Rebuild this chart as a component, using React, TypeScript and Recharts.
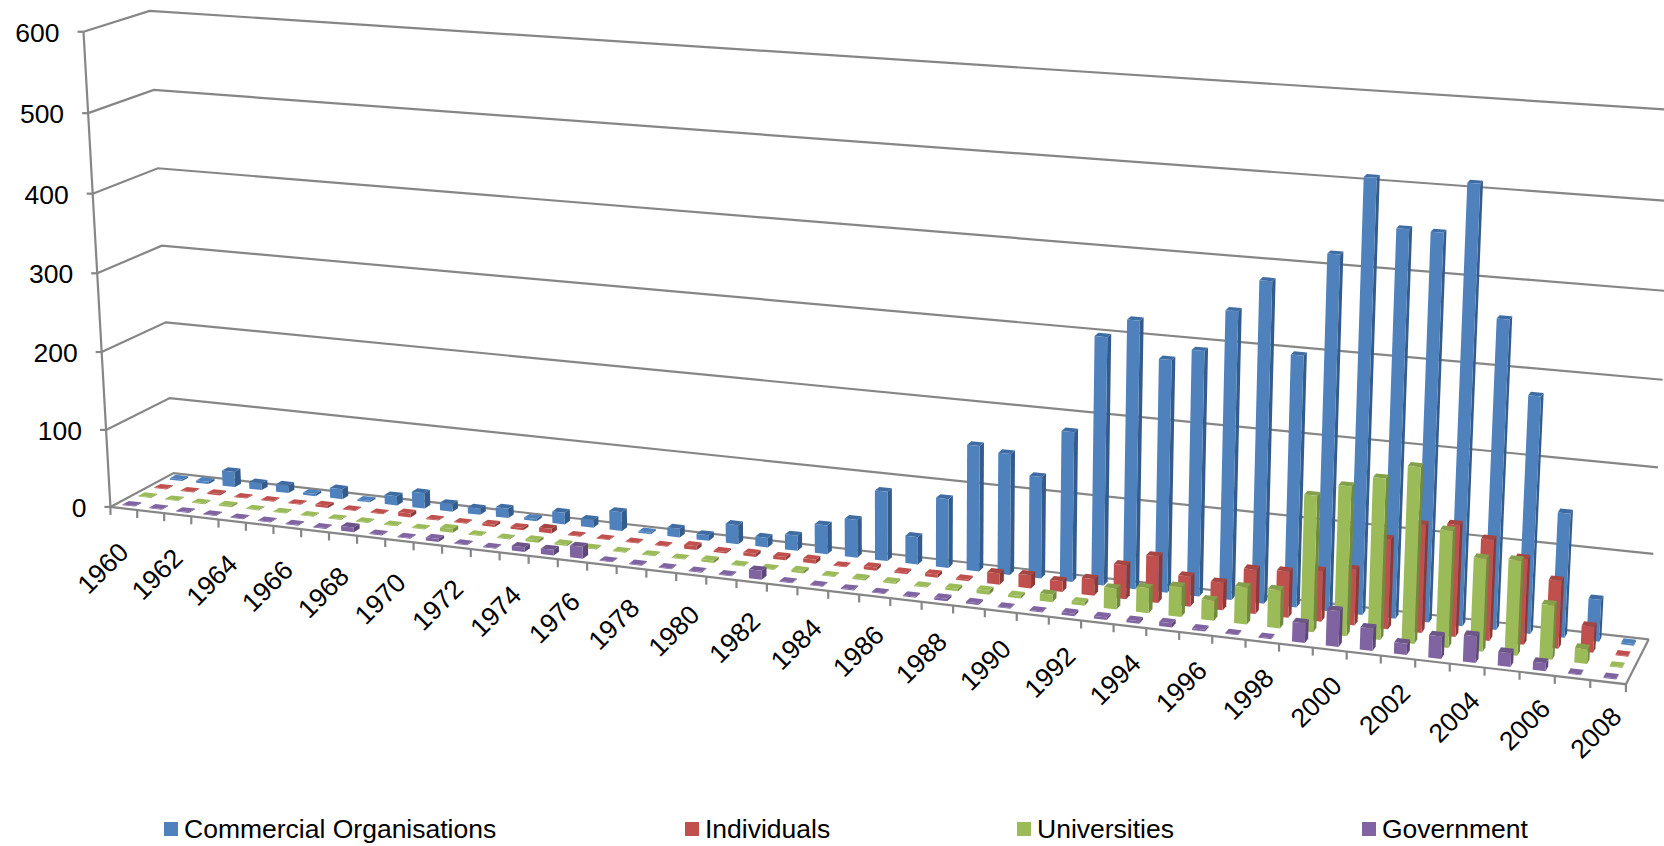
import React from 'react';
import { BarChart, Bar, XAxis, YAxis, CartesianGrid, Legend } from 'recharts';

const WIDTH = 1664;
const HEIGHT = 846;
const FONT = '"Liberation Sans", Arial, sans-serif';

const years = [
  '1960','1961','1962','1963','1964','1965','1966','1967','1968','1969',
  '1970','1971','1972','1973','1974','1975','1976','1977','1978','1979',
  '1980','1981','1982','1983','1984','1985','1986','1987','1988','1989',
  '1990','1991','1992','1993','1994','1995','1996','1997','1998','1999',
  '2000','2001','2002','2003','2004','2005','2006','2007','2008',
];
const commercial = [
  2,3,20,9,10,3,13,2,12,20,
  10,8,12,3,15,10,24,2,11,7,
  24,12,19,36,47,86,34,85,154,148,
  124,182,299,322,279,293,343,381,298,418,
  508,453,452,510,360,276,145,49,2,
];
const individuals = [
  1,1,2,1,1,1,3,1,1,5,
  1,1,3,3,6,1,1,1,1,5,
  2,4,4,5,1,4,2,4,2,14,
  16,13,20,41,56,36,33,53,55,60,
  66,106,127,131,118,100,79,30,1,
];
const universities = [
  1,1,1,2,1,1,1,1,1,1,
  1,5,1,1,3,2,1,1,1,1,
  3,1,1,3,1,2,2,1,3,5,
  3,9,4,25,30,36,24,44,45,160,
  175,188,205,136,108,110,63,17,1,
];
const government = [
  1,1,1,1,1,1,1,1,6,1,
  1,4,1,1,6,7,15,1,1,1,
  1,1,11,1,1,1,1,1,3,2,
  1,1,3,3,3,5,2,1,1,23,
  42,26,13,26,31,16,9,1,1,
];
const yTicks = [0, 100, 200, 300, 400, 500, 600];
const seriesNames = ['Commercial Organisations', 'Individuals', 'Universities', 'Government'];
const chartRows = years.map((year, i) => ({
  year,
  [seriesNames[0]]: commercial[i],
  [seriesNames[1]]: individuals[i],
  [seriesNames[2]]: universities[i],
  [seriesNames[3]]: government[i],
}));

// Box corners of the 3D scene (run along years, depth, value) and where they land on screen.
const sceneAnchors: number[][] = [
  [0, 0, 0, 111, 507],
  [0, 0, 1, 83, 32],
  [0, 1, 0, 173, 473],
  [0, 1, 1, 150, 10.7],
  [1, 0, 0, 1626, 684],
  [1, 1, 0, 1649, 639],
  [1, 1, 1, 1677, 110],
  [1, 1, 1 / 6, 1653, 554],
  [1, 1, 1 / 3, 1658, 468],
  [0, 0, 5 / 6, 88, 113],
  [0, 1, 5 / 6, 154, 90],
];

function solveProjection(anchors: number[][]): number[] {
  const n = 11;
  const ata = Array.from({ length: n }, () => new Array(n + 1).fill(0));
  const addRow = (row: number[], rhs: number) => {
    for (let i = 0; i < n; i++) {
      for (let j = 0; j < n; j++) ata[i][j] += row[i] * row[j];
      ata[i][n] += row[i] * rhs;
    }
  };
  anchors.forEach(([u, d, h, sx, sy]) => {
    const X = sx / 1000;
    const Y = sy / 1000;
    addRow([1, u, d, h, 0, 0, 0, 0, -X * u, -X * d, -X * h], X);
    addRow([0, 0, 0, 0, 1, u, d, h, -Y * u, -Y * d, -Y * h], Y);
  });
  for (let c = 0; c < n; c++) {
    let pivot = c;
    for (let r = c + 1; r < n; r++) if (Math.abs(ata[r][c]) > Math.abs(ata[pivot][c])) pivot = r;
    [ata[c], ata[pivot]] = [ata[pivot], ata[c]];
    for (let r = 0; r < n; r++) {
      if (r === c) continue;
      const f = ata[r][c] / ata[c][c];
      for (let k = c; k <= n; k++) ata[r][k] -= f * ata[c][k];
    }
  }
  return ata.map((row, i) => row[n] / row[i]);
}

const P = solveProjection(sceneAnchors);

function project(u: number, d: number, h: number): [number, number] {
  const w = 1 + P[8] * u + P[9] * d + P[10] * h;
  return [
    (1000 * (P[0] + P[1] * u + P[2] * d + P[3] * h)) / w,
    (1000 * (P[4] + P[5] * u + P[6] * d + P[7] * h)) / w,
  ];
}
const pts = (list: [number, number][]) => list.map((p) => `${p[0].toFixed(2)},${p[1].toFixed(2)}`).join(' ');

const AXIS_GREY = '#868686';
const LINE_W = 2.2;
const N = years.length;
const BAND = WIDTH / N;
const LABEL_SIZE = 26.5;

const faces = [
  { front: '#4F81BD', side: '#335C8C', top: '#3F6CA3' },
  { front: '#C0504D', side: '#8C3A38', top: '#A64542' },
  { front: '#9BBB59', side: '#708A3E', top: '#84A04A' },
  { front: '#8064A2', side: '#5C4776', top: '#6D5489' },
];

// Draws one bar as a cuboid: the flat bar rectangle gives the category slot, row and height.
function Cuboid(props: any) {
  const { x, y, width, fill } = props;
  const cx = x + width / 2;
  const cell = Math.floor(cx / BAND);
  const row = Math.floor((cx - cell * BAND) / width);
  const h = (HEIGHT - y) / HEIGHT;
  const un = (cell + 0.5) / N;
  const frac = 0.47 - 0.11 * un;
  const u0 = (cell + 0.5 - frac / 2) / N;
  const u1 = (cell + 0.5 + frac / 2) / N;
  const dc = 1 - (row + 0.5) / 4;
  const d0 = dc - 0.05;
  const d1 = dc + 0.05;
  const c = faces[row];
  return (
    <g>
      <polygon points={pts([project(u1, d0, 0), project(u1, d1, 0), project(u1, d1, h), project(u1, d0, h)])} fill={c.side} />
      <polygon points={pts([project(u0, d0, h), project(u1, d0, h), project(u1, d1, h), project(u0, d1, h)])} fill={h > 0.01 ? c.top : fill} />
      <polygon points={pts([project(u0, d0, 0), project(u1, d0, 0), project(u1, d0, h), project(u0, d0, h)])} fill={fill} />
    </g>
  );
}

// Wall gridline for one value tick, bent at the back-left corner; the floor outline sits with the zero line.
function WallLine(props: any) {
  const h = (HEIGHT - props.y1) / HEIGHT;
  const lineProps = { fill: 'none', stroke: AXIS_GREY, strokeWidth: LINE_W };
  const front = project(0, 0, h);
  return (
    <g>
      <polyline points={pts([front, project(0, 1, h), project(1, 1, h)])} {...lineProps} />
      <line x1={front[0] - 6} y1={front[1]} x2={front[0]} y2={front[1]} stroke={AXIS_GREY} strokeWidth={LINE_W} />
      {Math.abs(h) < 1e-6 && (
        <polyline points={pts([project(0, 0, 1), project(0, 0, 0), project(1, 0, 0), project(1, 1, 0)])} {...lineProps} />
      )}
    </g>
  );
}

function ValueTick(props: any) {
  const h = (HEIGHT - props.y) / HEIGHT;
  const [ax, ay] = project(0, 0, h);
  return (
    <text x={ax - 24} y={ay + 1} textAnchor="end" dominantBaseline="central" fontFamily={FONT} fontSize={LABEL_SIZE} fill="#000">
      {props.payload.value}
    </text>
  );
}

function YearTick(props: any) {
  const { x, payload, index } = props;
  const un = x / WIDTH;
  const uLeft = (x - BAND / 2) / WIDTH;
  const [tx, ty] = project(uLeft, 0, 0);
  const [cx, cy] = project(un, 0, 0);
  const lx = cx - 21 + 9 * un;
  const ly = cy + 60 - 9.5 * un;
  const last = project(1, 0, 0);
  return (
    <g>
      <line x1={tx} y1={ty} x2={tx} y2={ty + 8} stroke={AXIS_GREY} strokeWidth={LINE_W} />
      {index === N - 1 && <line x1={last[0]} y1={last[1]} x2={last[0]} y2={last[1] + 8} stroke={AXIS_GREY} strokeWidth={LINE_W} />}
      {index % 2 === 0 && (
        <text
          x={lx}
          y={ly}
          textAnchor="middle"
          dominantBaseline="central"
          transform={`rotate(-45 ${lx} ${ly})`}
          fontFamily={FONT}
          fontSize={LABEL_SIZE}
          fill="#000"
        >
          {payload.value}
        </text>
      )}
    </g>
  );
}

const legendSwatchX = [164, 685, 1017, 1362];

function LegendRow(props: any) {
  return (
    <div style={{ position: 'relative', width: WIDTH, height: 0 }}>
      {(props.payload || []).map((item: any, i: number) => (
        <React.Fragment key={item.value}>
          <div
            style={{
              position: 'absolute',
              left: legendSwatchX[i],
              top: 822,
              width: 14,
              height: 14,
              background: item.color,
            }}
          />
          <div
            style={{
              position: 'absolute',
              left: legendSwatchX[i] + 20,
              top: 814,
              lineHeight: '30px',
              whiteSpace: 'nowrap',
              fontFamily: FONT,
              fontSize: LABEL_SIZE,
              color: '#000',
            }}
          >
            {item.value}
          </div>
        </React.Fragment>
      ))}
    </div>
  );
}

export default function App() {
  return (
    <div style={{ position: 'absolute', left: 0, top: 0, width: WIDTH, height: HEIGHT, background: '#fff' }}>
      <BarChart
        width={WIDTH}
        height={HEIGHT}
        data={chartRows}
        margin={{ top: 0, right: 0, bottom: -1, left: -1 }}
        barGap={0}
        barCategoryGap={0}
      >
        <CartesianGrid vertical={false} horizontal={WallLine} />
        <XAxis dataKey="year" height={1} interval={0} axisLine={false} tickLine={false} tick={YearTick} />
        <YAxis width={1} domain={[0, 600]} ticks={yTicks} interval={0} axisLine={false} tickLine={false} tick={ValueTick} />
        <Legend
          verticalAlign="top"
          itemSorter={null}
          content={LegendRow}
          wrapperStyle={{ position: 'absolute', left: 0, top: 0, width: WIDTH, height: 0 }}
        />
        <Bar dataKey={seriesNames[0]} fill={faces[0].front} shape={Cuboid} isAnimationActive={false} />
        <Bar dataKey={seriesNames[1]} fill={faces[1].front} shape={Cuboid} isAnimationActive={false} />
        <Bar dataKey={seriesNames[2]} fill={faces[2].front} shape={Cuboid} isAnimationActive={false} />
        <Bar dataKey={seriesNames[3]} fill={faces[3].front} shape={Cuboid} isAnimationActive={false} />
      </BarChart>
    </div>
  );
}
